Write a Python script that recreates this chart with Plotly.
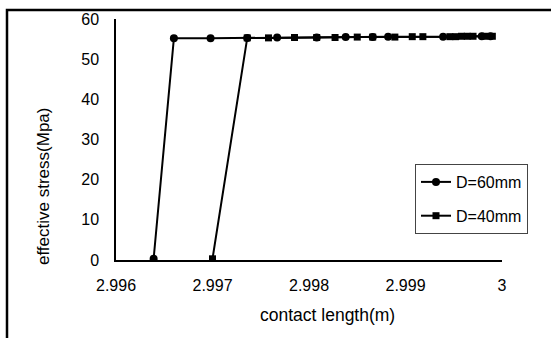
import plotly.graph_objects as go

# D=60mm series (circles)
x60 = [2.99639, 2.99660, 2.99698, 2.99736, 2.99767, 2.99808, 2.99838, 2.99866, 2.99882, 2.99939, 2.99979, 2.99988]
y60 = [0.3, 55.2, 55.2, 55.3, 55.4, 55.4, 55.5, 55.5, 55.6, 55.6, 55.7, 55.7]

# D=40mm series (squares)
x40 = [2.99700, 2.99736, 2.99758, 2.99785, 2.99808, 2.99827, 2.99850, 2.99866, 2.99889, 2.99907, 2.99918,
       2.99946, 2.99952, 2.99958, 2.99964, 2.99970, 2.99982, 2.99990]
y40 = [0.3, 55.3, 55.3, 55.4, 55.4, 55.4, 55.5, 55.5, 55.5, 55.6, 55.6, 55.6, 55.6, 55.7, 55.7, 55.7, 55.7, 55.7]

xticks = [2.996, 2.997, 2.998, 2.999, 3.0]
xtick_labels = ["2.996", "2.997", "2.998", "2.999", "3"]
yticks = [0, 10, 20, 30, 40, 50, 60]

FONT = "Liberation Sans, Arial, sans-serif"

fig = go.Figure()
fig.add_trace(go.Scatter(x=x60, y=y60, name="D=60mm", mode="lines+markers",
                         line=dict(color="black", width=2),
                         marker=dict(symbol="circle", size=8, color="black"),
                         legendgroup="a"))
fig.add_trace(go.Scatter(x=x40, y=y40, name="D=40mm", mode="lines+markers",
                         line=dict(color="black", width=2),
                         marker=dict(symbol="square", size=7, color="black"),
                         legendgroup="b"))

fig.update_layout(
    width=551, height=338,
    margin=dict(l=116, r=49, t=19, b=78),
    paper_bgcolor="white", plot_bgcolor="white",
    font=dict(family=FONT, size=16, color="black"),
    showlegend=True,
    legend=dict(x=(415 - 116) / 386, y=(260 - 164) / 241, xanchor="left", yanchor="top",
                bordercolor="#444", borderwidth=1, bgcolor="white",
                font=dict(size=16), tracegroupgap=10),
    xaxis=dict(range=[2.996, 3.0], tickvals=xticks, ticktext=xtick_labels,
               showgrid=False, zeroline=False, showline=True, linecolor="black", linewidth=1.5,
               ticks="", ticklen=0, ticklabelstandoff=10, tickfont=dict(size=16)),
    yaxis=dict(range=[0, 60], tickvals=yticks, showgrid=False, zeroline=False,
               showline=True, linecolor="black", linewidth=1.5, ticks="", ticklen=0,
               ticklabelstandoff=12, tickfont=dict(size=16)),
    annotations=[
        dict(text="contact length(m)", xref="paper", yref="paper", x=(327 - 116) / 386,
             y=-(315 - 260) / 241, showarrow=False, xanchor="center", yanchor="middle",
             font=dict(size=17.5)),
        dict(text="effective stress(Mpa)", xref="paper", yref="paper", x=-(116 - 43) / 386,
             y=(260 - 187) / 241, showarrow=False, xanchor="center", yanchor="middle",
             textangle=-90, font=dict(size=17)),
    ],
    shapes=[
        dict(type="rect", xref="paper", yref="paper",
             x0=(7 - 116) / 386, x1=(560 - 116) / 386,
             y0=(260 - 350) / 241, y1=(260 - 10) / 241,
             line=dict(color="black", width=2.5), fillcolor="rgba(0,0,0,0)", layer="below"),
    ],
)

fig.write_html("out.html")
